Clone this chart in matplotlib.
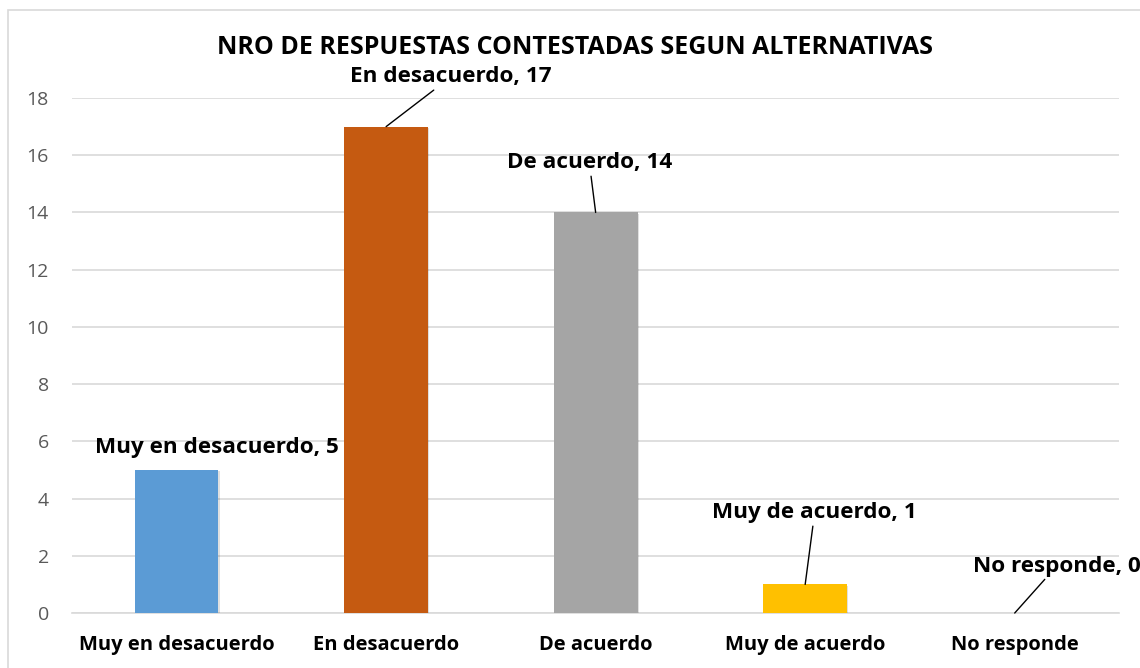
import matplotlib.pyplot as plt
import matplotlib.patheffects as pe
from matplotlib.patches import Rectangle

categorias = ["Muy en desacuerdo", "En desacuerdo", "De acuerdo", "Muy de acuerdo", "No responde"]
valores = [5, 17, 14, 1, 0]
colores = ["#5B9BD5", "#C55A11", "#A5A5A5", "#FFC000", "#5B9BD5"]
yticks = [0, 2, 4, 6, 8, 10, 12, 14, 16, 18]

# label positions (data coords) and whether a leader line is drawn
pos_etiquetas = [(0.19, 5.8), (1.31, 18.74), (1.97, 15.73), (3.045, 3.5), (4.20, 1.64)]
con_linea = [False, True, True, True, True]

plt.rcParams['font.family'] = ['Open Sans', 'DejaVu Sans']

fig = plt.figure(figsize=(11.4, 6.68), dpi=100)
ax = fig.add_axes([0.063, 0.0823, 0.919, 0.7710])

# chart border
fig.patches.append(Rectangle((8 / 1140, -0.01), 1.1, 1 - 10 / 668 + 0.01, transform=fig.transFigure,
                             fill=False, edgecolor="#D9D9D9", linewidth=1.2))

x = range(len(categorias))
barras = ax.bar(x, valores, width=0.4, color=colores, zorder=3)
for b in barras:
    b.set_path_effects([pe.SimplePatchShadow(offset=(1, -1), shadow_rgbFace='#000000', alpha=0.12),
                        pe.Normal()])

ax.set_xlim(-0.5, 4.5)
ax.set_ylim(0, 18)
ax.set_yticks(yticks)
ax.set_xticks(list(x))
ax.set_xticklabels(categorias, fontweight='bold', fontsize=14.5, color='black')
ax.tick_params(axis='y', length=0, labelsize=14, labelcolor='#595959', pad=16.5)
ax.tick_params(axis='x', length=0, pad=15.5)
ax.grid(axis='y', color='#D9D9D9', linewidth=1.2, zorder=0)
for s in ['top', 'right', 'left']:
    ax.spines[s].set_visible(False)
ax.spines['bottom'].set_color('#D9D9D9')
ax.spines['bottom'].set_linewidth(1.2)

for i, (cat, v) in enumerate(zip(categorias, valores)):
    tx, ty = pos_etiquetas[i]
    props = dict(arrowstyle='-', color='black', linewidth=1, shrinkA=0, shrinkB=0) if con_linea[i] else None
    ax.annotate(f"{cat}, {v}", xy=(i, v), xytext=(tx, ty), ha='center', va='center',
                fontsize=16.2, fontweight='bold', arrowprops=props, annotation_clip=False)

fig.text(575 / 1140, 1 - 48 / 668, "NRO DE RESPUESTAS CONTESTADAS SEGUN ALTERNATIVAS",
         ha='center', va='center', fontsize=18, fontweight='bold')

fig.savefig("out.png", dpi=100)
